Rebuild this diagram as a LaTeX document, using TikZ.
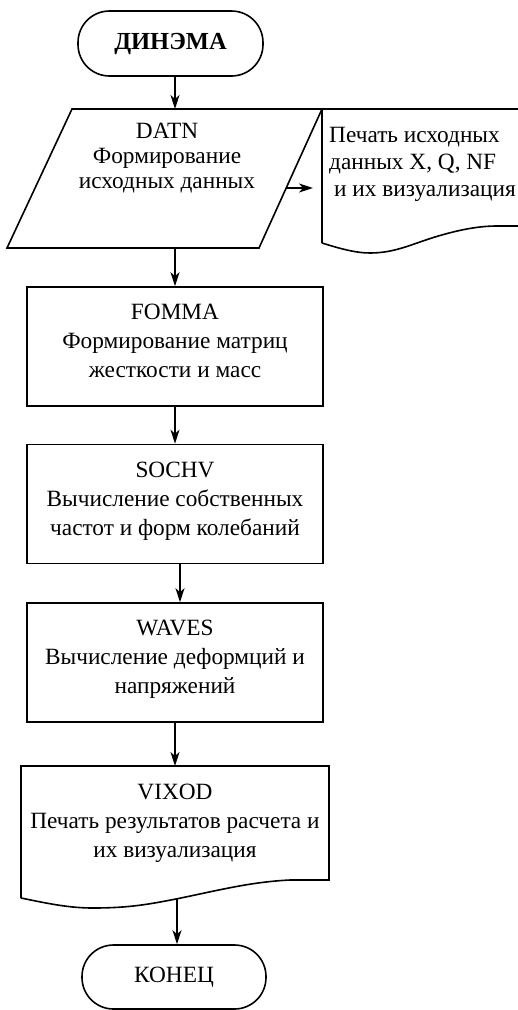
\documentclass[tikz,border=0pt]{standalone}
\usepackage{fontspec}
\setmainfont{Liberation Serif}
\usetikzlibrary{arrows.meta}
\begin{document}
\begin{tikzpicture}[x=1pt,y=-1pt,
  shp/.style={draw, line width=1.6pt},
  box/.style={draw, line width=1.6pt, minimum width=296pt, minimum height=119pt, inner sep=0pt},
  term/.style={draw, line width=1.6pt, rounded corners=31.5pt, inner sep=0pt,
    font=\fontsize{23.3}{29}\selectfont},
  txt/.style={align=center, inner sep=0pt, font=\fontsize{23.3}{29}\selectfont},
  arr/.style={line width=1.6pt, -{Stealth[length=14pt,width=9pt,inset=4pt]}}
]
\path[use as bounding box] (0,0) rectangle (518,1010);
\clip (0,0) rectangle (518,1010);

% start terminal
\node[term, minimum width=185pt, minimum height=65pt, font=\fontsize{24.5}{29}\selectfont\bfseries]
  (start) at (170.5,43.5) {ДИНЭМА};

% parallelogram DATN
\coordinate (pTL) at (72,109);
\coordinate (pTR) at (322,109);
\coordinate (pBR) at (259,248);
\coordinate (pBL) at (7,248);
\coordinate (pTop) at (175,109);
\coordinate (pBot) at (175,248);
\coordinate (pR) at (286,188);
\draw[shp] (pTL) -- (pTR) -- (pBR) -- (pBL) -- cycle;
\node[txt, font=\fontsize{23.3}{25}\selectfont] (datn) at (167,158)
  {DATN\\Формирование\\исходных данных};

% output document (top right)
\coordinate (oIn) at (313,188);
\draw[shp] (322,243) -- (pTR) -- (540,109) -- (540,226) -- (497,226)
  .. controls (478,226) and (458,230) .. (435,237)
  .. controls (412,244) and (395,253) .. (370,253)
  .. controls (355,253) and (338,248) .. (322,243);
\node[txt, align=left, anchor=west, font=\fontsize{23.3}{27}\selectfont] (outT) at (329,164)
  {Печать исходных\\данных X, Q, NF\\\hspace*{5pt}и их визуализация};

% FOMMA
\node[box] (fomma) at (175,346.5) {};
\node[txt] (fommaT) at (175,341) {FOMMA\\Формирование матриц\\жесткости и масс};

% SOCHV
\node[box] (sochv) at (175,504) {};
\node[txt] (sochvT) at (175,501) {SOCHV\\Вычисление собственных\\частот и форм колебаний};

% WAVES
\node[box] (waves) at (175,662.5) {};
\node[txt] (wavesT) at (175,659) {WAVES\\Вычисление деформций и\\напряжений};

% VIXOD document
\coordinate (vTop) at (175,766);
\coordinate (vBot) at (177,899);
\draw[shp] (21,898) -- (21,766) -- (329,766) -- (329,880) -- (290,880)
  .. controls (250,882) and (220,890) .. (176,899)
  .. controls (150,904) and (130,908) .. (93,908)
  .. controls (70,908) and (50,904) .. (21,898);
\node[txt] (vixodT) at (175,823) {VIXOD\\Печать результатов расчета и\\их визуализация};

% end terminal
\node[term, minimum width=184pt, minimum height=64pt] (stop) at (174,977) {КОНЕЦ};

% connectors
\draw[arr] (start.south -| pTop) -- (pTop);
\draw[arr] (pR) -- (oIn);
\draw[arr] (pBot) -- (fomma.north);
\draw[arr] (fomma.south) -- (sochv.north);
\draw[arr] ([xshift=5pt]sochv.south) -- ([xshift=5pt]waves.north);
\draw[arr] (waves.south) -- (vTop);
\draw[arr] (vBot) -- (stop.north -| vBot);
\end{tikzpicture}
\end{document}
